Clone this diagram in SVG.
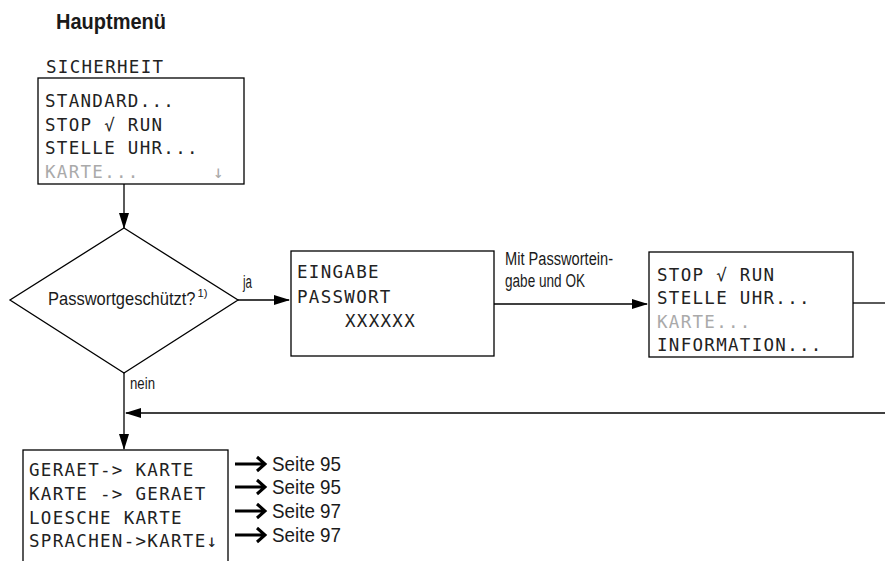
<svg xmlns="http://www.w3.org/2000/svg" width="885" height="561" viewBox="0 0 885 561">
<defs>
<style>
.lbl{font-family:"Liberation Sans",Arial,sans-serif;fill:#1a1a1a}
.mono{font-family:"DejaVu Sans Mono","Liberation Mono",monospace;font-size:17.5px;letter-spacing:1.3px;fill:#222}
.dim{fill:#aaa}
.box{fill:#fff;stroke:#000;stroke-width:1.3}
.ln{fill:none;stroke:#000;stroke-width:1.3}
.big{fill:none;stroke:#000;stroke-width:3}
</style>
<marker id="ah" markerWidth="16" markerHeight="10" refX="15" refY="5" orient="auto" markerUnits="userSpaceOnUse">
<path d="M0,0 L16,5 L0,10 Z" fill="#000"/>
</marker>
</defs>
<rect width="885" height="561" fill="#fff"/>

<text class="lbl" x="56" y="29" font-size="22" font-weight="bold" textLength="110" lengthAdjust="spacingAndGlyphs">Hauptmenü</text>

<g id="menu-sicherheit">
<text class="mono" x="46" y="73">SICHERHEIT</text>
<rect class="box" x="38" y="78" width="206" height="106"/>
<text class="mono" x="45" y="107">STANDARD...</text>
<text class="mono" x="45" y="131">STOP √ RUN</text>
<text class="mono" x="45" y="154">STELLE UHR...</text>
<text class="mono dim" x="45" y="178">KARTE...</text>
<text class="mono dim" x="213" y="178">↓</text>
</g>

<g id="decision">
<polygon class="box" points="124,228 238,300 124,373 10,300"/>
<text class="lbl" transform="translate(48,305) scale(1,1.15)" x="0" y="0" font-size="16.5">Passwortgeschützt?</text>
<text class="lbl" x="197.5" y="297" font-size="11.5" textLength="10" lengthAdjust="spacingAndGlyphs">1)</text>
</g>

<g id="eingabe">
<rect class="box" x="291" y="251" width="203" height="105"/>
<text class="mono" x="297" y="278">EINGABE</text>
<text class="mono" x="297" y="303">PASSWORT</text>
<text class="mono" x="345" y="327">XXXXXX</text>
</g>

<g id="menu-geschuetzt">
<rect class="box" x="649" y="252" width="204" height="105"/>
<text class="mono" x="657" y="281">STOP √ RUN</text>
<text class="mono" x="657" y="304">STELLE UHR...</text>
<text class="mono dim" x="657" y="328">KARTE...</text>
<text class="mono" x="657" y="351">INFORMATION...</text>
</g>

<g id="menu-karte">
<rect class="box" x="23" y="450" width="205" height="120"/>
<text class="mono" x="29" y="476">GERAET-&gt; KARTE</text>
<text class="mono" x="29" y="500">KARTE -&gt; GERAET</text>
<text class="mono" x="29" y="524">LOESCHE KARTE</text>
<text class="mono" x="29" y="547">SPRACHEN-&gt;KARTE↓</text>
</g>

<g id="connectors">
<line class="ln" x1="124" y1="184" x2="124" y2="228" marker-end="url(#ah)"/>
<line class="ln" x1="238" y1="300" x2="289" y2="300" marker-end="url(#ah)"/>
<line class="ln" x1="494" y1="304" x2="647" y2="304" marker-end="url(#ah)"/>
<line class="ln" x1="853" y1="303" x2="885" y2="303"/>
<line class="ln" x1="885" y1="413" x2="126" y2="413" marker-end="url(#ah)"/>
<line class="ln" x1="124" y1="373" x2="124" y2="449" marker-end="url(#ah)"/>
<text class="lbl" x="243" y="288" font-size="18" textLength="9" lengthAdjust="spacingAndGlyphs">ja</text>
<text class="lbl" x="130" y="389" font-size="17" textLength="25" lengthAdjust="spacingAndGlyphs">nein</text>
<text class="lbl" x="505" y="265" font-size="18" textLength="108" lengthAdjust="spacingAndGlyphs">Mit Passwortein-</text>
<text class="lbl" x="505" y="287" font-size="18" textLength="80" lengthAdjust="spacingAndGlyphs">gabe und OK</text>
</g>

<g id="refs">
<path class="big" d="M235,464 H264 M257,457 L265,464 L257,471"/>
<path class="big" d="M235,487 H264 M257,480 L265,487 L257,494"/>
<path class="big" d="M235,511 H264 M257,504 L265,511 L257,518"/>
<path class="big" d="M235,535 H264 M257,528 L265,535 L257,542"/>
<text class="lbl" x="272" y="471" font-size="21" textLength="69" lengthAdjust="spacingAndGlyphs">Seite 95</text>
<text class="lbl" x="272" y="494" font-size="21" textLength="69" lengthAdjust="spacingAndGlyphs">Seite 95</text>
<text class="lbl" x="272" y="518" font-size="21" textLength="69" lengthAdjust="spacingAndGlyphs">Seite 97</text>
<text class="lbl" x="272" y="542" font-size="21" textLength="69" lengthAdjust="spacingAndGlyphs">Seite 97</text>
</g>
</svg>
